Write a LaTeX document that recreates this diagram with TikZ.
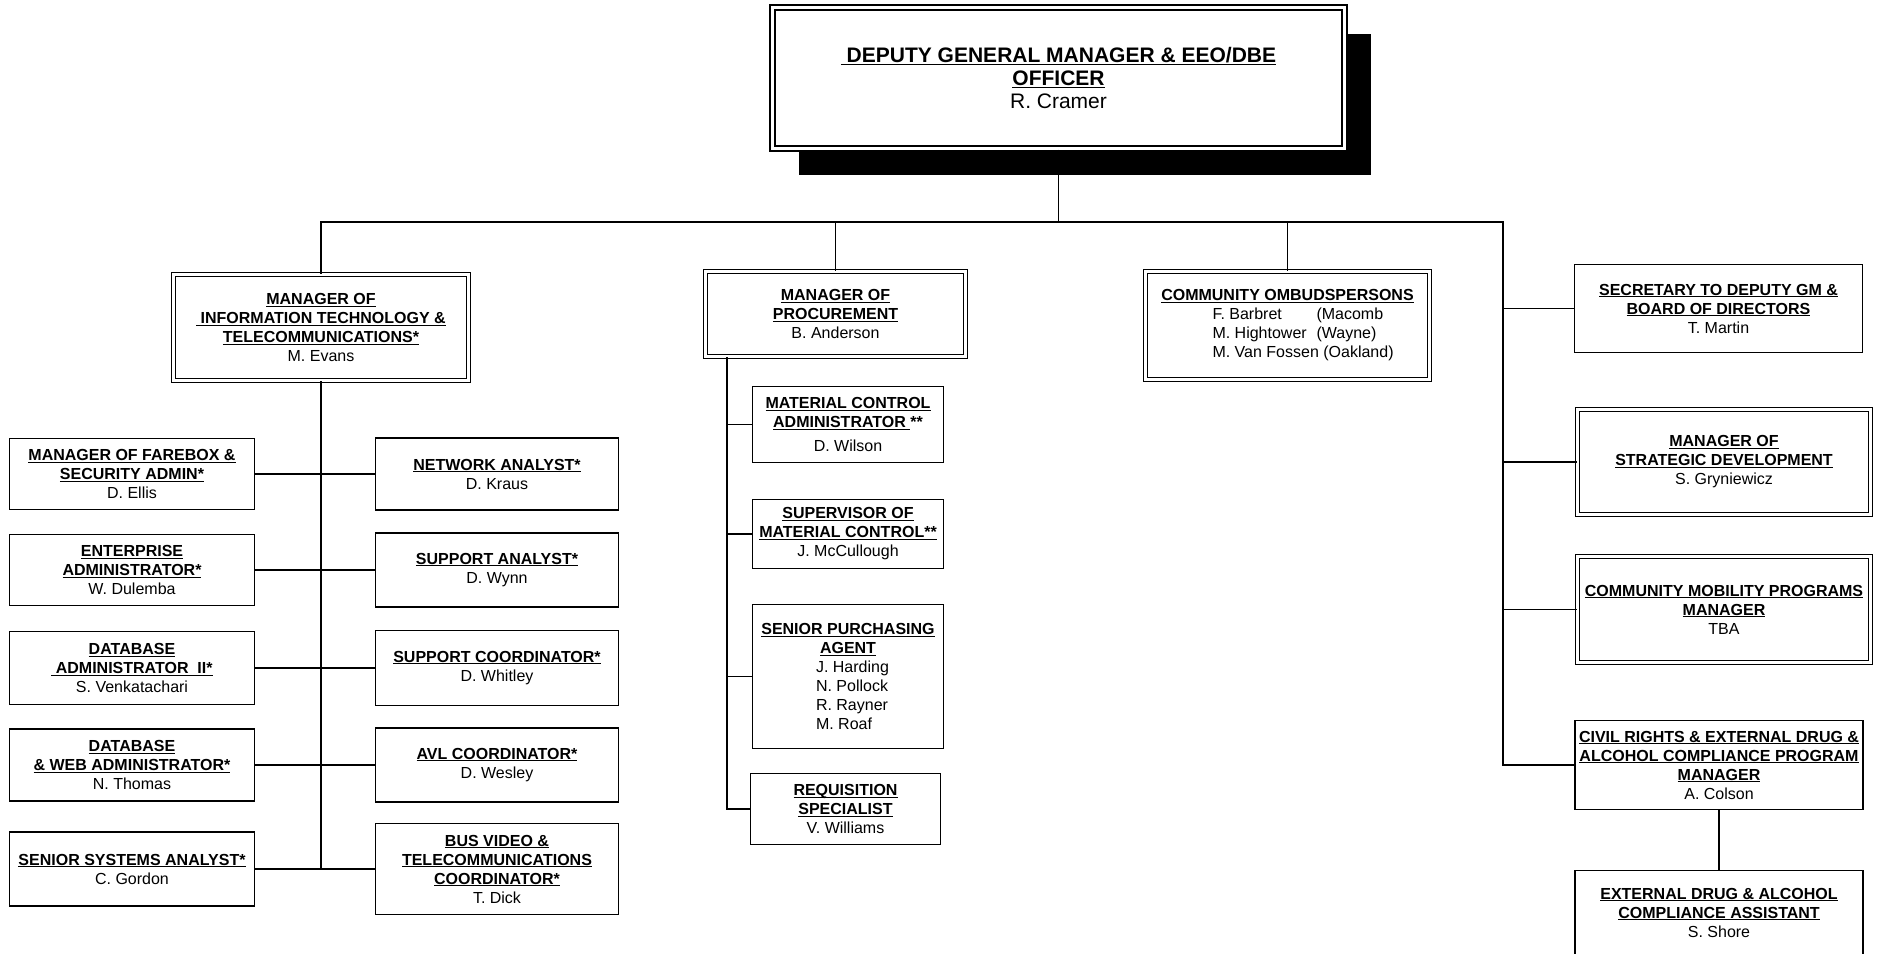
\documentclass[tikz,border=0pt]{standalone}
\usepackage{fontspec}
\setmainfont{Liberation Sans}
\usetikzlibrary{shadows}
\newcommand{\hdr}[1]{\leavevmode\setbox0\hbox{\bfseries #1}\rlap{\rule[-2pt]{\wd0}{1pt}}\box0}

\begin{document}
\begin{tikzpicture}[x=1pt, y=-1pt, line width=1.6pt]
\tikzstyle{job}=[draw, fill=white, align=center, inner sep=0pt, font=\fontsize{16}{19}\selectfont]
\tikzstyle{lead}=[job, line width=1.4pt, double=white, double distance=2.6pt]
\tikzstyle{lcol}=[job, minimum width=245pt]
\tikzstyle{rcol}=[job, minimum width=243pt]
\tikzstyle{pcol}=[job, minimum width=191pt]
\useasboundingbox (0,0) rectangle (1881,953);
    % top of the chart
    \node [lead, line width=2pt, double distance=3pt, minimum width=572pt, minimum height=141pt,
        font=\fontsize{21}{23}\selectfont,
        drop shadow={shadow xshift=26pt, shadow yshift=-26pt, opacity=1, fill=black}] (gm) at (1058.5,78)
        {\hdr{\ DEPUTY GENERAL MANAGER \& EEO/DBE}\\ \hdr{OFFICER}\\ R. Cramer};
    % second row
    \node [lead, minimum width=295pt, minimum height=106pt] (it) at (321,327.5)
        {\hdr{MANAGER OF}\\ \hdr{\ INFORMATION TECHNOLOGY \&}\\ \hdr{TELECOMMUNICATIONS*}\\ M. Evans};
    \node [lead, minimum width=260pt, minimum height=85pt] (pr) at (835.5,314)
        {\hdr{MANAGER OF}\\ \hdr{PROCUREMENT}\\ B. Anderson};
    \node [lead, minimum width=284pt, minimum height=108pt] (om) at (1287.5,325.5)
        {\hdr{COMMUNITY OMBUDSPERSONS}\\
         \makebox[150pt][l]{\makebox[104pt][l]{F. Barbret}(Macomb}\\
         \makebox[150pt][l]{\makebox[104pt][l]{M. Hightower}(Wayne)}\\
         \makebox[150pt][l]{M. Van Fossen (Oakland)}};
    % right hand column
    \node [job, minimum width=288pt, minimum height=88pt] (sec) at (1718.5,308.5)
        {\hdr{SECRETARY TO DEPUTY GM \&}\\ \hdr{BOARD OF DIRECTORS}\\ T. Martin};
    \node [lead, minimum width=293pt, minimum height=105pt] (sd) at (1724,462)
        {\hdr{MANAGER OF}\\ \hdr{STRATEGIC DEVELOPMENT}\\ S. Gryniewicz};
    \node [lead, minimum width=293pt, minimum height=106pt] (cm) at (1724,609.5)
        {\hdr{COMMUNITY MOBILITY PROGRAMS}\\ \hdr{MANAGER}\\ TBA};
    \node [job, minimum width=288pt, minimum height=89pt] (cr) at (1719,765)
        {\hdr{CIVIL RIGHTS \& EXTERNAL DRUG \&}\\ \hdr{ALCOHOL COMPLIANCE PROGRAM}\\ \hdr{MANAGER}\\ A. Colson};
    \node [job, minimum width=288pt, minimum height=84pt] (ex) at (1719,912.5)
        {\hdr{EXTERNAL DRUG \& ALCOHOL}\\ \hdr{COMPLIANCE ASSISTANT}\\ S. Shore};
    % information technology staff
    \node [lcol, minimum height=71pt] (fb) at (132,474)
        {\hdr{MANAGER OF FAREBOX \&}\\ \hdr{SECURITY ADMIN*}\\ D. Ellis};
    \node [lcol, minimum height=71pt] (ea) at (132,570)
        {\hdr{ENTERPRISE}\\ \hdr{ADMINISTRATOR*}\\ W. Dulemba};
    \node [lcol, minimum height=73pt] (db) at (132,668)
        {\hdr{DATABASE}\\ \hdr{\ ADMINISTRATOR\ \ II*}\\ S. Venkatachari};
    \node [lcol, minimum height=72pt] (dw) at (132,765)
        {\hdr{DATABASE}\\ \hdr{\& WEB ADMINISTRATOR*}\\ N. Thomas};
    \node [lcol, minimum height=74pt] (ss) at (132,869)
        {\hdr{SENIOR SYSTEMS ANALYST*}\\ C. Gordon};
    \node [rcol, minimum height=72pt] (na) at (497,474)
        {\hdr{NETWORK ANALYST*}\\ D. Kraus};
    \node [rcol, minimum height=74pt] (sa) at (497,570)
        {\hdr{SUPPORT ANALYST*}\\ D. Wynn};
    \node [rcol, minimum height=75pt] (sc) at (497,668)
        {\hdr{SUPPORT COORDINATOR*}\\ D. Whitley};
    \node [rcol, minimum height=74pt] (avl) at (497,765)
        {\hdr{AVL COORDINATOR*}\\ D. Wesley};
    \node [rcol, minimum height=91pt] (bv) at (497,869)
        {\hdr{BUS VIDEO \&}\\ \hdr{TELECOMMUNICATIONS}\\ \hdr{COORDINATOR*}\\ T. Dick};
    % procurement staff
    \node [pcol, minimum height=76pt] (mc) at (848,424.5)
        {\hdr{MATERIAL CONTROL}\\ \hdr{ADMINISTRATOR }\textbf{**}\\[5pt] D. Wilson};
    \node [pcol, minimum height=69pt] (sm) at (848,534)
        {\hdr{SUPERVISOR OF}\\ \hdr{MATERIAL CONTROL**}\\ J. McCullough};
    \node [pcol, minimum height=144pt] (sp) at (848,676.5)
        {\hdr{SENIOR PURCHASING}\\ \hdr{AGENT}\\
         \makebox[64pt][l]{J. Harding}\\ \makebox[64pt][l]{N. Pollock}\\
         \makebox[64pt][l]{R. Rayner}\\ \makebox[64pt][l]{M. Roaf}};
    \node [pcol, minimum width=190pt, minimum height=71pt] (rs) at (845.5,809)
        {\hdr{REQUISITION}\\ \hdr{SPECIALIST}\\ V. Williams};
    % connectors
    \coordinate (bj) at (1503,222);
    \draw (it.north) |- (bj) |- (cr.west);
    \draw (gm.south) -- (gm.south |- bj);
    \draw (pr.north) -- (pr.north |- bj);
    \draw (om.north) -- (om.north |- bj);
    \foreach \n in {sec, sd, cm}
        \draw (\n.west) -- (\n.west -| bj);
    \draw (cr.south) -- (ex.north);
    \draw (it.south) -- (it.south |- ss.east);
    \foreach \l/\r in {fb/na, ea/sa, db/sc, dw/avl, ss/bv}
        \draw (\l.east) -- (\r.west);
    \coordinate (pv) at ([xshift=22pt]pr.south west);
    \draw (pv) |- (rs.west);
    \foreach \n in {mc, sm, sp}
        \draw (\n.west) -- (\n.west -| pv);
\end{tikzpicture}
\end{document}
